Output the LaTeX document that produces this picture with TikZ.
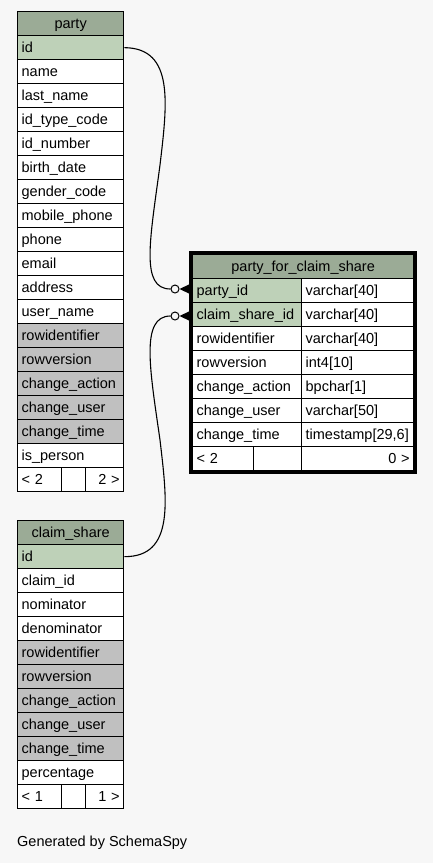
\documentclass[tikz,border=0pt]{standalone}
\usepackage{fontspec}
\setmainfont{Liberation Sans}
\definecolor{hdr}{HTML}{9BAB96}
\definecolor{pk}{HTML}{BED1B8}
\definecolor{gcol}{HTML}{C0C0C0}
\definecolor{bg}{HTML}{F7F7F7}
\newcommand\tabfont{\fontsize{14.5}{16}\selectfont}
\tikzset{
  cell/.style={draw=black, line width=1.3pt, anchor=north west, minimum height=24pt,
    inner xsep=4pt, inner ysep=0pt, text height=11.5pt, text depth=2.5pt, font=\tabfont},
  odot/.style={circle, draw=black, fill=bg, line width=1pt, minimum size=8pt, inner sep=0pt},
  conn/.style={draw=black, line width=1.1pt},
  crow/.style={fill=black}
}
\newcommand\mkcell[7]{\node[cell, minimum width=#4pt, text width=#5pt, align=left, #6] (#1) at (#2,#3) {#7};}
\begin{document}
\begin{tikzpicture}[x=1pt,y=-1pt]
\fill[bg] (0,0) rectangle (433,863);
\useasboundingbox (0,0) rectangle (433,863);
% party
\mkcell{ph}{17}{11}{106}{98}{fill=hdr, align=center}{party}
\foreach \t/\c [count=\i from 0] in {id/pk, name/white, last\_name/white, id\_type\_code/white,
  id\_number/white, birth\_date/white, gender\_code/white, mobile\_phone/white, phone/white,
  email/white, address/white, user\_name/white, rowidentifier/gcol, rowversion/gcol,
  change\_action/gcol, change\_user/gcol, change\_time/gcol, is\_person/white}
  {\mkcell{p\i}{17}{35+24*\i}{106}{98}{fill=\c}{\t}}
\mkcell{pf1}{17}{467}{44}{36}{fill=white}{< 2}
\mkcell{pf2}{61}{467}{24}{16}{fill=white}{}
\mkcell{pf3}{85}{467}{38}{30}{fill=white, align=right}{2 >}
% claim_share
\mkcell{ch}{17}{520}{106}{98}{fill=hdr, align=center}{claim\_share}
\foreach \t/\c [count=\i from 0] in {id/pk, claim\_id/white, nominator/white, denominator/white,
  rowidentifier/gcol, rowversion/gcol, change\_action/gcol, change\_user/gcol,
  change\_time/gcol, percentage/white}
  {\mkcell{c\i}{17}{544+24*\i}{106}{98}{fill=\c}{\t}}
\mkcell{cf1}{17}{784}{44}{36}{fill=white}{< 1}
\mkcell{cf2}{61}{784}{24}{16}{fill=white}{}
\mkcell{cf3}{85}{784}{38}{30}{fill=white, align=right}{1 >}
% party_for_claim_share
\mkcell{fh}{192}{254}{221}{213}{fill=hdr, align=center}{party\_for\_claim\_share}
\foreach \t/\ty/\c [count=\i from 0] in {party\_id/varchar[40]/pk, claim\_share\_id/varchar[40]/pk,
  rowidentifier/varchar[40]/white, rowversion/int4[10]/white, change\_action/bpchar[1]/white,
  change\_user/varchar[50]/white, change\_time/{timestamp[29,6]}/white}
  {\mkcell{fa\i}{192}{278+24*\i}{109}{101}{fill=\c}{\t}
   \mkcell{fb\i}{301}{278+24*\i}{112}{104}{fill=white}{\ty}}
\mkcell{ff1}{192}{446}{61}{53}{fill=white}{< 2}
\mkcell{ff2}{253}{446}{48}{40}{fill=white}{}
\mkcell{ff3}{301}{446}{112}{104}{fill=white, align=right}{0 >}
\draw[line width=3pt] ([shift={(-1.2pt,1.4pt)}]fh.north west) rectangle ([shift={(1.4pt,-1.2pt)}]ff3.south east);
% connectors
\node[odot] (o1) at (175,289) {};
\node[odot] (o2) at (175,316) {};
\draw[conn] (p0.east) .. controls (175,48) and (167,105) .. (160,165)
  .. controls (150,240) and (140,289) .. (o1.west);
\draw[conn] (c0.east) .. controls (175,557) and (167,500) .. (160,440)
  .. controls (150,370) and (140,316) .. (o2.west);
\fill[crow] (o1.east) -- (190,284) -- (190,294) -- cycle;
\fill[crow] (o2.east) -- (190,311) -- (190,321) -- cycle;
% footer text
\node[anchor=west, inner sep=0pt, font=\tabfont] (gen) at (17,843) {Generated by SchemaSpy};
\end{tikzpicture}
\end{document}
